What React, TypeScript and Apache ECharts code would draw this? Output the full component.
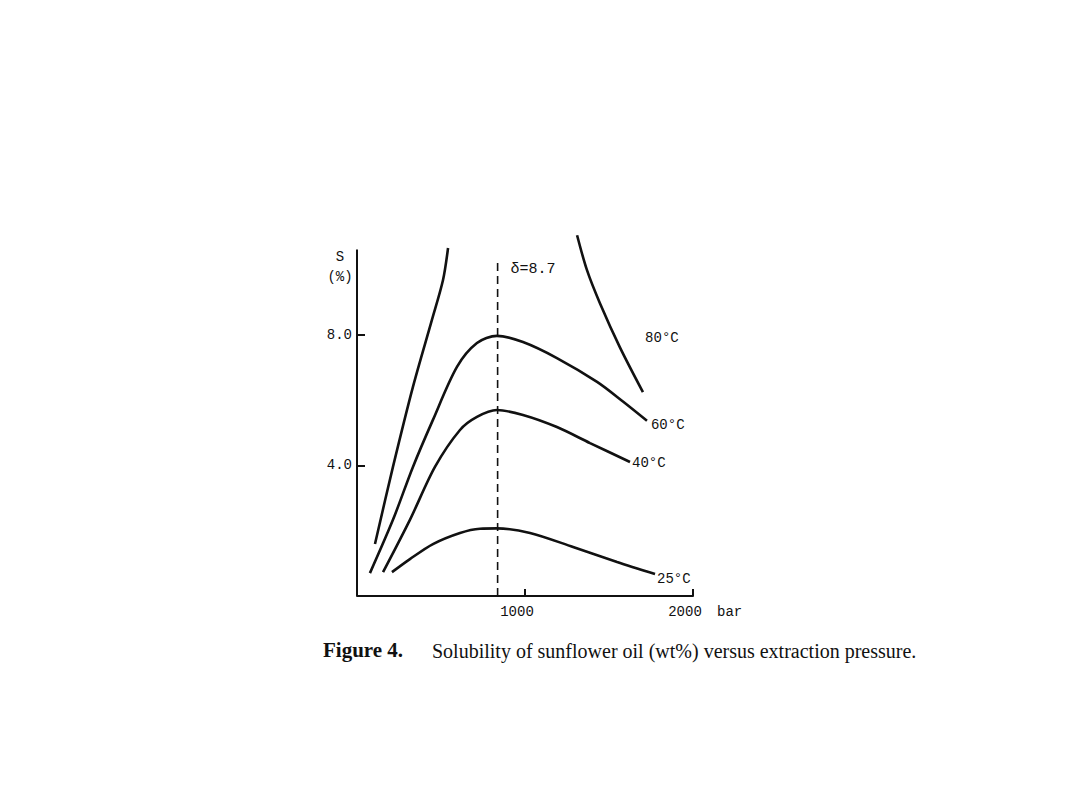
import React, { useEffect, useRef } from "react";
import * as echarts from "echarts";

const xTicks = [1000, 2000];
const yTicks = [4, 8];
const deltaLabel = "δ=8.7";
const deltaLine = [[837, 0], [837, 10.2]];
const yAxisLine = [[0, 0], [0, 10.6]];

const s25 = [[208, 0.73], [315, 1.13], [452, 1.59], [613, 1.93], [732, 2.06], [833, 2.07], [1030, 1.93], [1286, 1.5], [1548, 1.04], [1774, 0.67]];
const s40 = [[155, 0.73], [315, 2.33], [464, 3.95], [613, 5.08], [714, 5.48], [833, 5.69], [988, 5.54], [1190, 5.17], [1387, 4.68], [1625, 4.1]];
const s60 = [[77, 0.7], [214, 2.33], [333, 3.95], [452, 5.39], [595, 7.01], [714, 7.74], [833, 7.96], [988, 7.77], [1190, 7.28], [1429, 6.55], [1583, 5.95], [1726, 5.36]];
const s80Left = [[107, 1.59], [214, 3.95], [333, 6.4], [446, 8.45], [512, 9.67], [542, 10.65]];
const s80Right = [[1310, 11.04], [1369, 9.97], [1446, 8.96], [1565, 7.61], [1702, 6.24]];
const label80Pos = [[1815, 7.9]];

const MONO = "Liberation Mono";
const INK = "#111";

export default function App() {
  const ref = useRef<HTMLDivElement>(null);
  useEffect(() => {
    if (!ref.current) return;
    const chart = echarts.init(ref.current, null, { renderer: "svg" });
    const curve = (name: string, data: number[][], labelText?: string, offset?: number[]) => ({
      name,
      type: "line",
      data,
      smooth: 0.3,
      showSymbol: false,
      symbol: "none",
      lineStyle: { color: INK, width: 2.6 },
      endLabel: labelText
        ? { show: true, formatter: labelText, offset: offset || [0, 0], distance: 2, fontFamily: MONO, fontSize: 14, color: INK }
        : { show: false },
      z: 3,
    });
    chart.setOption({
      animation: false,
      backgroundColor: "#fff",
      grid: { left: 357, right: 387, top: 230, bottom: 214 },
      xAxis: {
        type: "value",
        min: 0,
        max: 2000,
        splitLine: { show: false },
        axisLine: { show: true, lineStyle: { color: INK, width: 2 } },
        axisTick: { show: true, inside: true, length: 7, customValues: xTicks, lineStyle: { color: INK, width: 2 } },
        axisLabel: { customValues: xTicks, formatter: (v: number) => String(v), fontFamily: MONO, fontSize: 14, color: INK, margin: 9, padding: [0, 16, 0, 0] },
        name: "bar",
        nameLocation: "end",
        nameGap: 24,
        nameTextStyle: { fontFamily: MONO, fontSize: 14, color: INK, align: "left", verticalAlign: "top", padding: [9, 0, 0, 0] },
      },
      yAxis: {
        type: "value",
        min: 0,
        max: 11.2,
        splitLine: { show: false },
        axisLine: { show: false },
        axisTick: { show: true, inside: true, length: 8, customValues: yTicks, lineStyle: { color: INK, width: 2 } },
        axisLabel: { customValues: yTicks, formatter: (v: number) => v.toFixed(1), fontFamily: MONO, fontSize: 14, color: INK, margin: 5 },
      },
      graphic: [
        { type: "text", x: 340, y: 257, style: { text: "S", fontFamily: MONO, fontSize: 14, fill: INK, align: "center", verticalAlign: "middle" } },
        { type: "text", x: 340, y: 277, style: { text: "(%)", fontFamily: MONO, fontSize: 14, fill: INK, align: "center", verticalAlign: "middle" } },
        { type: "text", x: 323, y: 650, style: { text: "Figure 4.", fontFamily: "Liberation Serif", fontWeight: "bold", fontSize: 21, fill: INK, verticalAlign: "middle" } },
        { type: "text", x: 432, y: 651, style: { text: "Solubility of sunflower oil (wt%) versus extraction pressure.", fontFamily: "Liberation Serif", fontSize: 20, fill: INK, verticalAlign: "middle" } },
      ],
      series: [
        {
          name: "yaxis",
          type: "line",
          data: yAxisLine,
          symbol: "none",
          lineStyle: { color: INK, width: 2 },
          z: 4,
        },
        {
          name: "delta",
          type: "line",
          data: deltaLine,
          symbol: "none",
          lineStyle: { color: INK, width: 1.6, type: [8, 5] },
          endLabel: { show: true, formatter: deltaLabel, offset: [11, 7], distance: 2, fontFamily: MONO, fontSize: 15, color: INK },
          z: 2,
        },
        curve("25°C", s25, "25°C", [0, 5]),
        curve("40°C", s40, "40°C", [0, 1]),
        curve("60°C", s60, "60°C", [2, 4]),
        curve("80°C-left", s80Left),
        curve("80°C-right", s80Right),
        {
          name: "80°C",
          type: "scatter",
          data: label80Pos,
          symbolSize: 1,
          itemStyle: { color: "rgba(0,0,0,0)", opacity: 1 },
          label: { show: true, formatter: "80°C", position: "inside", fontFamily: MONO, fontSize: 14, color: INK },
        },
      ],
    });
    return () => chart.dispose();
  }, []);
  return <div ref={ref} style={{ position: "absolute", left: 0, top: 0, width: 1080, height: 810 }} />;
}
